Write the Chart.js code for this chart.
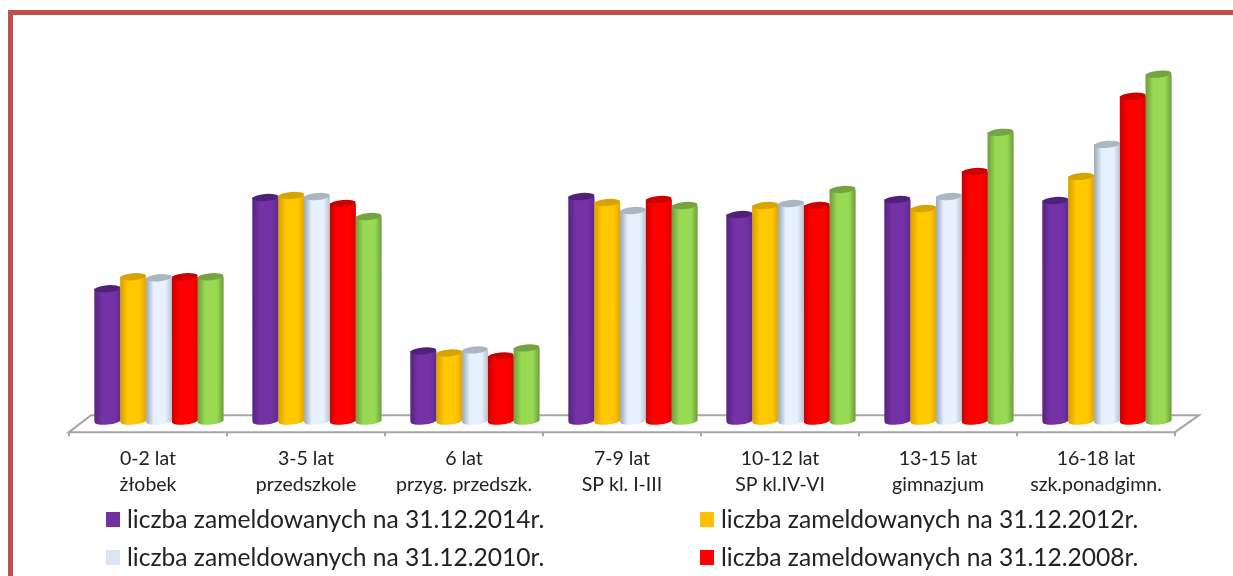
<!DOCTYPE html>
<html>
<head>
<meta charset="utf-8">
<style>
    html, body { margin: 0; padding: 0; background: #fff; overflow: hidden; }
    #ramka { position: absolute; left: 8px; top: 10px; width: 1225px; height: 566px; box-sizing: border-box;
             border-left: 5px solid #c0504d; border-top: 5px solid #c0504d; }
    #wykres { position: absolute; left: 0; top: 0; }
    .leg { position: absolute; font: 24.6px Lato, sans-serif; color: #222; white-space: nowrap; line-height: 28px; }
    .leg i { position: absolute; left: -21px; top: 7px; width: 14px; height: 15px; }
</style>
</head>
<body>
<div id="ramka"></div>
<canvas id="wykres" width="1233" height="576"></canvas>
<div id="legenda"></div>
<script src="https://cdn.jsdelivr.net/npm/chart.js@4"></script>
<script>
// wartosci (brak osi Y, wiec w jednostkach umownych)
const kategorie = [
    ['0-2 lat', 'żłobek'],
    ['3-5 lat', 'przedszkole'],
    ['6 lat', 'przyg. przedszk.'],
    ['7-9 lat', 'SP kl. I-III'],
    ['10-12 lat', 'SP kl.IV-VI'],
    ['13-15 lat', 'gimnazjum'],
    ['16-18 lat', 'szk.ponadgimn.']
];
const dane2014 = [132, 223, 70, 224, 206, 221, 220];
const dane2012 = [144, 225, 68, 218, 215, 212, 244];
const dane2010 = [143, 224, 71, 210, 217, 224, 276];
const dane2008 = [144, 217, 65, 221, 215, 249, 324];
const dane2006 = [144, 204, 73, 215, 231, 288, 346];

const etykiety = [
    'liczba zameldowanych na 31.12.2014r.',
    'liczba zameldowanych na 31.12.2012r.',
    'liczba zameldowanych na 31.12.2010r.',
    'liczba zameldowanych na 31.12.2008r.',
    'liczba zameldowanych na 31.12.2006r.'
];
const kolory = ['#7030a0', '#ffc000', '#dce6f2', '#ff0000', '#92d050'];
// [krawedz lewa, srodek, krawedz prawa, wieczko]
const walce = [
    ['#55257d', '#7432a6', '#5f2a8c', '#4f2178'],
    ['#d69f00', '#ffc800', '#e0a800', '#d8a300'],
    ['#98a6b6', '#e6f1fd', '#b9c4d0', '#aab6c2'],
    ['#c80000', '#ff0000', '#e00000', '#cc0000'],
    ['#6f9c3e', '#98da54', '#6f9c3e', '#74a440']
];

const walec3d = {
    id: 'walec3d',
    beforeDatasetsDraw(chart) {
        const { ctx, chartArea } = chart;
        const os = chart.scales.x;
        const krok = os.getPixelForValue(1) - os.getPixelForValue(0);
        const lewy = os.getPixelForValue(0) - krok / 2 - 11;
        const prawy = lewy + krok * kategorie.length;
        const przod = chartArea.bottom + 11;
        const tyl = chartArea.bottom - 6;
        ctx.save();
        ctx.strokeStyle = '#a6a6a6';
        ctx.lineWidth = 2;
        ctx.beginPath();
        ctx.moveTo(lewy, przod);
        ctx.lineTo(lewy + 22, tyl);
        ctx.lineTo(prawy + 24, tyl);
        ctx.lineTo(prawy, przod);
        ctx.closePath();
        ctx.stroke();
        for (let i = 0; i <= kategorie.length; i++) {
            ctx.beginPath();
            ctx.moveTo(lewy + krok * i, przod);
            ctx.lineTo(lewy + krok * i, przod + 4);
            ctx.stroke();
        }
        ctx.restore();
    },
    afterDatasetsDraw(chart) {
        const { ctx } = chart;
        chart.data.datasets.forEach((ds, d) => {
            chart.getDatasetMeta(d).data.forEach((bar) => {
                const rx = bar.width / 2;
                const ry = 3.5;
                const kat = -0.09;
                const l = bar.x - rx;
                const g = ctx.createLinearGradient(l, 0, l + bar.width, 0);
                g.addColorStop(0, walce[d][0]);
                g.addColorStop(0.3, walce[d][1]);
                g.addColorStop(0.75, walce[d][1]);
                g.addColorStop(1, walce[d][2]);
                ctx.save();
                ctx.fillStyle = g;
                ctx.beginPath();
                ctx.ellipse(bar.x, bar.base, rx, ry, kat, 0, Math.PI);
                ctx.lineTo(l, bar.y);
                ctx.lineTo(l + bar.width, bar.y);
                ctx.closePath();
                ctx.fill();
                ctx.fillStyle = walce[d][3];
                ctx.beginPath();
                ctx.ellipse(bar.x, bar.y, rx, ry, kat, 0, Math.PI * 2);
                ctx.fill();
                ctx.restore();
            });
        });
    }
};

new Chart(document.getElementById('wykres').getContext('2d'), {
    type: 'bar',
    plugins: [walec3d],
    data: {
        labels: kategorie,
        datasets: etykiety.map((nazwa, i) => ({
            label: nazwa,
            data: [dane2014, dane2012, dane2010, dane2008, dane2006][i],
            backgroundColor: kolory[i],
            barPercentage: 1,
            categoryPercentage: 0.816
        }))
    },
    options: {
        responsive: false,
        animation: false,
        layout: { padding: { left: 80, right: 47, top: 20, bottom: 53 } },
        plugins: { legend: { display: false }, tooltip: { enabled: false } },
        scales: {
            x: {
                grid: { display: false, drawTicks: false },
                border: { display: false },
                ticks: {
                    color: '#222',
                    font: { family: 'Lato', size: 19.5, lineHeight: 1.33 },
                    maxRotation: 0,
                    autoSkip: false,
                    padding: 25,
                    labelOffset: -11
                }
            },
            y: { display: false, min: 0, max: 400 }
        }
    }
});

// legenda: tylko cztery serie widoczne na obrazku
const pozycje = [[127, 505], [721, 505], [127, 543], [721, 543]];
pozycje.forEach((p, i) => {
    const el = document.createElement('div');
    el.className = 'leg';
    el.style.left = p[0] + 'px';
    el.style.top = p[1] + 'px';
    el.innerHTML = '<i style="background:' + kolory[i] + '"></i>' + etykiety[i];
    document.getElementById('legenda').appendChild(el);
});
</script>
</body>
</html>
